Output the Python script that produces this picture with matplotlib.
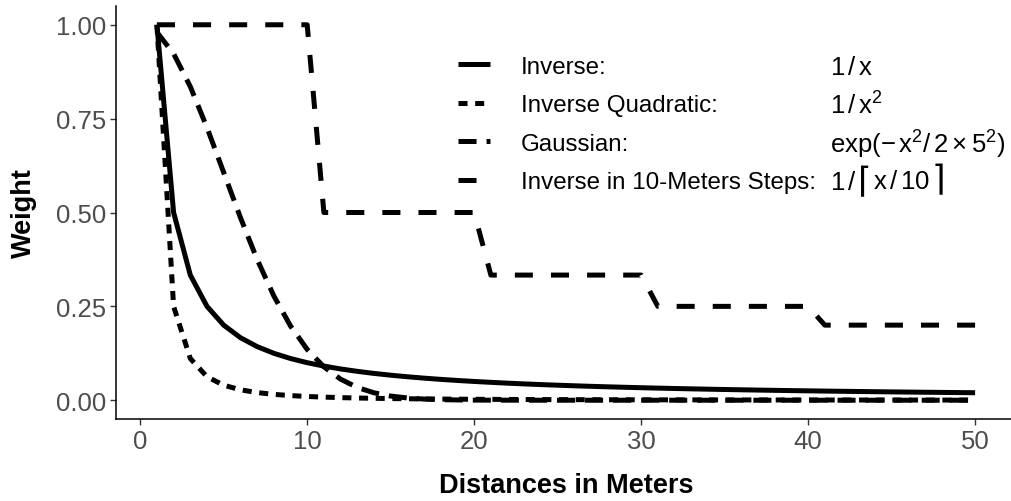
import numpy as np
import matplotlib
matplotlib.use("Agg")
import matplotlib.pyplot as plt

plt.rcParams['font.family'] = ['Liberation Sans', 'DejaVu Sans']
plt.rcParams['mathtext.fontset'] = 'custom'
plt.rcParams['mathtext.rm'] = 'Liberation Sans'
plt.rcParams['mathtext.it'] = 'Liberation Sans'
plt.rcParams['lines.scale_dashes'] = False

# distances (m) and the decay parameters named in the legend
dist = np.arange(1, 51)
sigma = 5
step = 10

w_inverse = 1 / dist
w_quadratic = 1 / dist ** 2
w_gauss = np.exp(-dist ** 2 / (2 * sigma ** 2))
w_steps = 1 / np.ceil(dist / step)

labels = ["Inverse:", "Inverse Quadratic:", "Gaussian:", "Inverse in 10-Meters Steps:"]
# each formula is a list of (text, size) pieces set side by side
formulas = [[(r"$\mathrm{1\,/\,x}$", 18.5)],
            [(r"$\mathrm{1\,/\,x^2}$", 18.5)],
            [(r"$\mathrm{exp(-\,x^2/\,2\times5^2)}$", 18.5)],
            [(r"$\mathrm{1\,/}$", 18.5), ("\u2308", 25), (r"$\mathrm{x\,/\,10}$", 18.5), ("\u2309", 25)]]
dash_styles = [None, (0, (6.5, 5.5)), (0, (13, 7.2)), (0, (13, 13))]
x_ticks = [0, 10, 20, 30, 40, 50]
y_ticks = [0.00, 0.25, 0.50, 0.75, 1.00]

fig = plt.figure(figsize=(10.12, 5.02), dpi=100)
ax = fig.add_axes([116 / 1012, 82 / 502, 900 / 1012, 413 / 502])

lw = 3.6
for w, lab, ds in zip([w_inverse, w_quadratic, w_gauss, w_steps], labels, dash_styles):
    if ds is None:
        ax.plot(dist, w, color='black', lw=lw, solid_capstyle='butt', label=lab)
    else:
        ax.plot(dist, w, color='black', lw=lw, linestyle=ds, label=lab)

ax.set_xlim(-1.45, 52.45)
ax.set_ylim(-0.05, 1.05)
ax.set_xticks(x_ticks)
ax.set_yticks(y_ticks)
ax.set_yticklabels(["%.2f" % v for v in y_ticks])
ax.tick_params(labelsize=18.5, labelcolor='#4D4D4D', color='#333333', length=4, width=1, pad=3)
for s in ['top', 'right']:
    ax.spines[s].set_visible(False)
for s in ['left', 'bottom']:
    ax.spines[s].set_linewidth(1.1)

ax.set_xlabel("Distances in Meters", fontsize=19.5, fontweight='bold')
ax.set_ylabel("Weight", fontsize=19.5, fontweight='bold')
ax.xaxis.set_label_coords(0.5, -0.128)
ax.yaxis.set_label_coords(-0.088, 0.5)

leg = ax.legend(loc='upper left', bbox_to_anchor=(0.361, 0.92), frameon=False,
                fontsize=17.4, handlelength=1.32, handletextpad=1.28, labelspacing=0.68,
                borderaxespad=0.3)

# formulas in a second column lined up with the legend rows
fig.canvas.draw()
inv = ax.transAxes.inverted()
for t, pieces in zip(leg.get_texts(), formulas):
    bb = t.get_window_extent()
    yc = inv.transform(((bb.x0 + bb.x1) / 2, (bb.y0 + bb.y1) / 2))[1]
    s, fs = pieces[0]
    prev = ax.text(0.793, yc, s, transform=ax.transAxes, fontsize=fs, va='center', ha='left')
    for s, fs in pieces[1:]:
        if s in ("\u2308", "\u2309"):
            prev = ax.annotate(s, xy=(1, 0.5), xycoords=prev, xytext=(1, 1), textcoords='offset points',
                               fontsize=fs, va='center', ha='left', family=['DejaVu Sans'])
        else:
            prev = ax.annotate(s, xy=(1, 0.5), xycoords=prev, xytext=(1, 0), textcoords='offset points',
                               fontsize=fs, va='center', ha='left')

fig.savefig("out.png", dpi=100)
